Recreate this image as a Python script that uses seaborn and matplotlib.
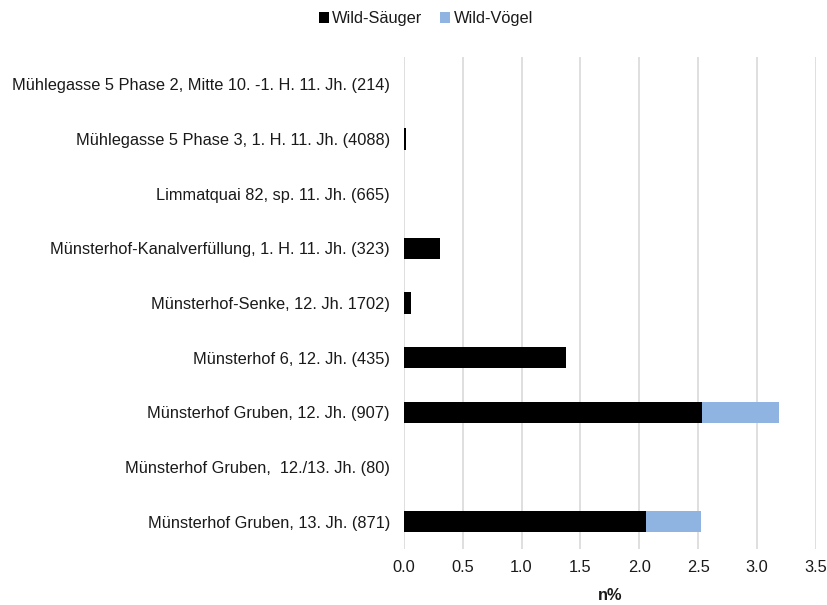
import matplotlib
matplotlib.use("Agg")
import matplotlib.pyplot as plt
import seaborn as sns
import pandas as pd
from matplotlib.patches import Patch

categories = [
    "Mühlegasse 5 Phase 2, Mitte 10. -1. H. 11. Jh. (214)",
    "Mühlegasse 5 Phase 3, 1. H. 11. Jh. (4088)",
    "Limmatquai 82, sp. 11. Jh. (665)",
    "Münsterhof-Kanalverfüllung, 1. H. 11. Jh. (323)",
    "Münsterhof-Senke, 12. Jh. 1702)",
    "Münsterhof 6, 12. Jh. (435)",
    "Münsterhof Gruben, 12. Jh. (907)",
    "Münsterhof Gruben,  12./13. Jh. (80)",
    "Münsterhof Gruben, 13. Jh. (871)",
]
wild_saeuger = [0.0, 0.02, 0.0, 0.31, 0.06, 1.38, 2.53, 0.0, 2.06]
wild_voegel = [0.0, 0.0, 0.0, 0.0, 0.0, 0.0, 0.66, 0.0, 0.46]
xticks = [0.0, 0.5, 1.0, 1.5, 2.0, 2.5, 3.0, 3.5]

df = pd.DataFrame({"cat": categories, "s": wild_saeuger, "v": wild_voegel})
df["total"] = df["s"] + df["v"]

sns.set_theme(style="white")
plt.rcParams["font.family"] = ["Liberation Sans", "DejaVu Sans"]

BLACK = "#000000"
BLUE = "#8FB4E2"
TXT = "#1a1a1a"
FS = 11.8

fig = plt.figure(figsize=(8.28, 6.05), dpi=100)
ax = fig.add_axes([0.4876, 0.0926, 0.9855 - 0.4876, 0.906 - 0.0926])

sns.barplot(data=df, x="total", y="cat", color=BLUE, width=0.39, ax=ax,
            saturation=1, linewidth=0, order=categories)
sns.barplot(data=df, x="s", y="cat", color=BLACK, width=0.39, ax=ax,
            saturation=1, linewidth=0, order=categories)

ax.set_xlim(0, 3.5)
ax.set_ylim(len(categories) - 0.5, -0.5)
ax.set_xticks(xticks)
ax.set_xticklabels([f"{t:.1f}" for t in xticks], fontsize=FS, color=TXT)
ax.set_yticks(range(len(categories)))
ax.set_yticklabels(categories, fontsize=FS, color=TXT)
ax.tick_params(axis="y", length=0, pad=10)
ax.tick_params(axis="x", length=0, pad=8)
ax.set_ylabel("")
ax.set_xlabel("n%", fontsize=FS, fontweight="bold", color=TXT, labelpad=9)
ax.xaxis.grid(True, color="#d9d9d9", linewidth=1.2)
ax.yaxis.grid(False)
ax.set_axisbelow(True)
for sp in ax.spines.values():
    sp.set_visible(False)

handles = [Patch(facecolor=BLACK, edgecolor="none"), Patch(facecolor=BLUE, edgecolor="none")]
fig.legend(handles, ["Wild-Säuger", "Wild-Vögel"], loc="upper center",
           bbox_to_anchor=(0.5145, 1.006), ncol=2, frameon=False, fontsize=FS,
           handlelength=0.6, handleheight=0.6, handletextpad=0.2, columnspacing=1.1,
           labelcolor=TXT)

fig.savefig("out.png", dpi=100, facecolor="white")
